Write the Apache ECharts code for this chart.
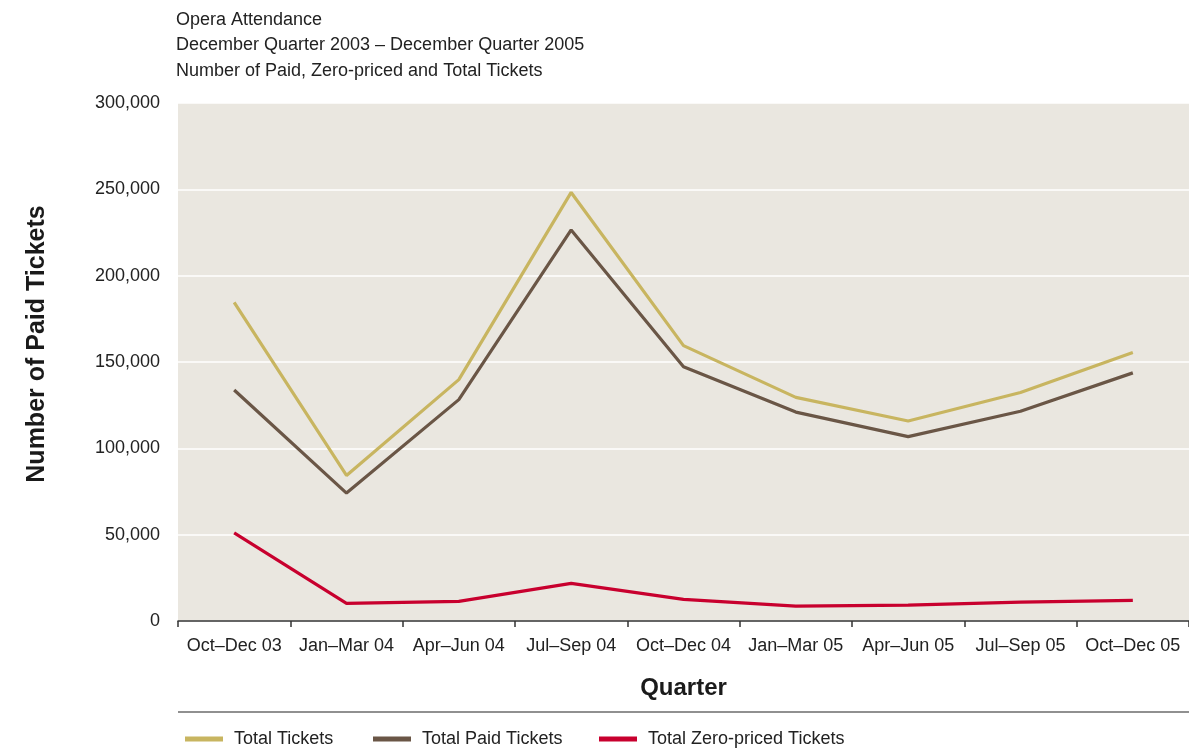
<!DOCTYPE html>
<html><head><meta charset="utf-8">
<script src="https://cdn.jsdelivr.net/npm/echarts@6/dist/echarts.min.js"></script>
<style>html,body{margin:0;padding:0;background:#fff}#c{width:1189px;height:756px}</style>
</head><body><div id="c"></div>
<script>
const categories = ['Oct–Dec 03','Jan–Mar 04','Apr–Jun 04','Jul–Sep 04','Oct–Dec 04','Jan–Mar 05','Apr–Jun 05','Jul–Sep 05','Oct–Dec 05'];
const totalTickets = [184500, 84300, 139800, 248200, 159500, 129500, 115800, 132300, 155500];
const paidTickets = [133800, 74100, 128200, 226500, 147300, 121000, 106800, 121500, 143700];
const zeroTickets = [51000, 10200, 11400, 21800, 12500, 8600, 9200, 10900, 11900];
const yTicks = [0, 50000, 100000, 150000, 200000, 250000, 300000];
const titleLines = ['Opera Attendance','December Quarter 2003 – December Quarter 2005','Number of Paid, Zero-priced and Total Tickets'];

const FONT = "'Liberation Sans Narrow', 'Liberation Sans', Arial, sans-serif";
const C_TOTAL = '#C8B560', C_PAID = '#6A5646', C_ZERO = '#C8002E';

const chart = echarts.init(document.getElementById('c'), null, {renderer:'canvas'});
const legendBase = {top: 725, icon: 'rect', itemWidth: 38, itemHeight: 5, textStyle: {fontFamily: FONT, fontSize: 18, color: '#222', padding:[0,0,0,6]}, selectedMode: false};
chart.setOption({
  animation: false,
  title: {text: titleLines.join('\n'), left: 171, top: 2, textStyle: {fontFamily: FONT, fontSize: 18, fontWeight: 'normal', color: '#222', lineHeight: 25.5}},
  grid: {left: 178, right: 0, top: 103, bottom: 135, show: true, backgroundColor: '#EAE7E0', borderWidth: 0},
  legend: [
    Object.assign({}, legendBase, {left: 180, data: ['Total Tickets']}),
    Object.assign({}, legendBase, {left: 368, data: ['Total Paid Tickets']}),
    Object.assign({}, legendBase, {left: 594, data: ['Total Zero-priced Tickets']})
  ],
  xAxis: {
    type: 'category', data: categories, boundaryGap: true,
    name: 'Quarter', nameLocation: 'middle', nameGap: 55,
    nameTextStyle: {fontFamily: FONT, fontSize: 24, fontWeight: 'bold', color: '#1a1a1a'},
    axisLine: {lineStyle: {color: '#333', width: 1.5}},
    axisTick: {show: true, length: 6, lineStyle: {color: '#333', width: 1.5}, alignWithLabel: false},
    axisLabel: {fontFamily: FONT, fontSize: 18, color: '#222', margin: 16, interval: 0},
    splitLine: {show: false}
  },
  yAxis: {
    type: 'value', min: 0, max: 300000, interval: 50000,
    name: 'Number of Paid Tickets', nameLocation: 'middle', nameGap: 128, nameRotate: 90,
    nameTextStyle: {fontFamily: FONT, fontSize: 25, fontWeight: 'bold', color: '#1a1a1a', padding: [0, 0, 0, 36]},
    axisLine: {show: false}, axisTick: {show: false},
    axisLabel: {fontFamily: FONT, fontSize: 18, color: '#222', margin: 18,
      formatter: v => yTicks.includes(v) ? v.toLocaleString('en-US') : ''},
    splitLine: {show: true, lineStyle: {color: '#FFFFFF', width: 1.5}}
  },
  graphic: [{type: 'line', shape: {x1: 178, y1: 712, x2: 1189, y2: 712}, style: {stroke: '#222', lineWidth: 1.2}}],
  series: [
    {name: 'Total Tickets', type: 'line', data: totalTickets, showSymbol: false, lineStyle: {color: C_TOTAL, width: 3.2}, itemStyle: {color: C_TOTAL}},
    {name: 'Total Paid Tickets', type: 'line', data: paidTickets, showSymbol: false, lineStyle: {color: C_PAID, width: 3.2}, itemStyle: {color: C_PAID}},
    {name: 'Total Zero-priced Tickets', type: 'line', data: zeroTickets, showSymbol: false, lineStyle: {color: C_ZERO, width: 3.2}, itemStyle: {color: C_ZERO}}
  ]
});
</script></body></html>
